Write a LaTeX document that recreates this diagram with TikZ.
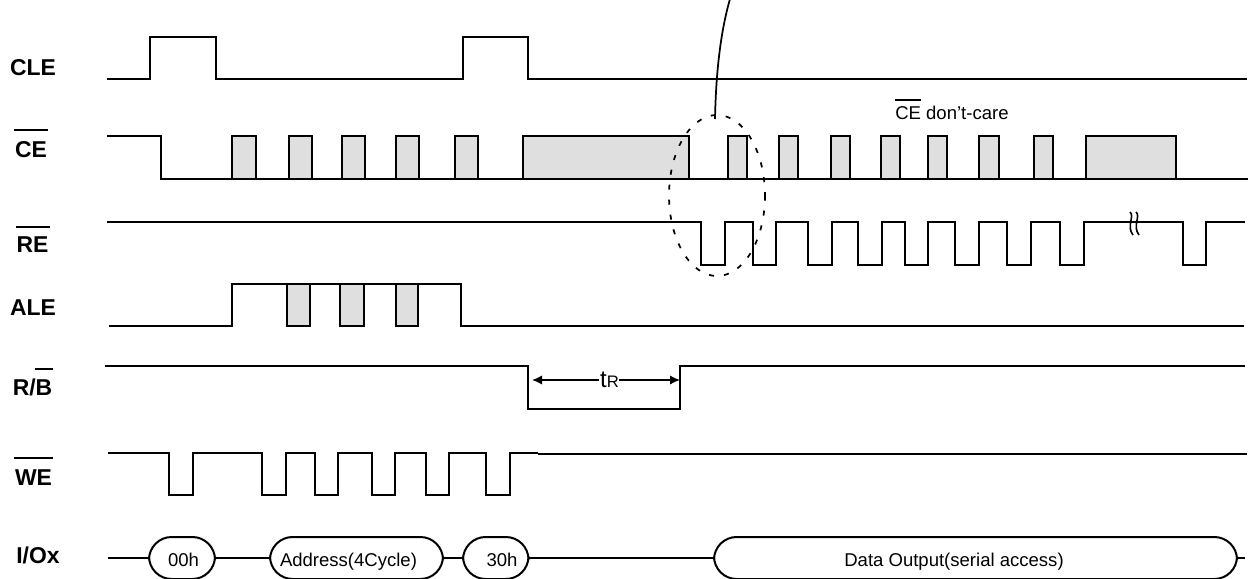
\documentclass[tikz,border=0pt]{standalone}
\usepackage{fontspec}
\usetikzlibrary{arrows.meta}
\setmainfont{Liberation Sans}
\tikzset{
  wave/.style={line width=1.5pt,line join=miter},
  sig/.style={font=\fontsize{17.2}{20}\bfseries\selectfont,inner sep=0pt,anchor=base,text=black},
  txt/.style={font=\fontsize{13.9}{16}\selectfont,inner sep=0pt,anchor=base,text=black},
  pill/.style={wave,rounded corners=17pt,fill=white}
}
\begin{document}
\begin{tikzpicture}[x=0.75pt,y=-0.75pt]
\useasboundingbox (0,0) rectangle (1248,578);
\fill[white] (0,0) rectangle (1248,578);
% gray areas
\foreach \a/\b in {232/256,289/312,342/365,396/419,455/478,523/689,728/747,779/798,831/850,881/900,928/947,979/999,1034/1053,1086/1176}
  \draw[wave,fill=black!12.5] (\a,179) -- (\a,136) -- (\b,136) -- (\b,179);
\foreach \a/\b in {287/310,340/364,396/418}
  \draw[wave,fill=black!12.5] (\a,284) rectangle (\b,326);
% CLE
\draw[wave] (107,79) -| (150,37) -| (216,79) -| (463,37) -| (528,79) -- (1247,79);
% CE
\draw[wave] (107,136) -- (162,136) (161,136) |- (1248,179);
% RE
\draw[wave] (107,222) -| (701,265) -| (725,222) -| (753,265) -| (776,222) -| (808,265) -| (832,222) -| (858,265) -| (882,222) -| (905,265) -| (928,222) -| (955,265) -| (979,222) -| (1007,265) -| (1031,222) -| (1060,265) -| (1084,222) -| (1183,265) -| (1206,222) -- (1245,222);
\draw[line width=1.2pt] (1130,212) .. controls (1135,216) and (1126,226) .. (1133,235);
\draw[line width=1.2pt] (1136,212) .. controls (1141,216) and (1132,226) .. (1139,235);
% ALE
\draw[wave] (109,326) -| (232,284) -| (461,326) -- (1244,326);
% RB
\draw[wave] (105,366) -| (528,409) -| (680,366) -- (1245,366);
\coordinate (tl) at (532,380); \coordinate (tr) at (680,380);
\node[inner sep=0pt,minimum width=15pt,minimum height=14pt] (tr2) at (609,380) {};
\node[inner sep=0pt,anchor=base] (trl) at (609.5,387) {\fontsize{18}{18}\selectfont t\fontsize{12.5}{14}\selectfont R};
\draw[line width=1.2pt,-{Latex[length=7.5pt,width=7pt]}] (tr2) -- (tl);
\draw[line width=1.2pt,-{Latex[length=7.5pt,width=7pt]}] (tr2) -- (tr);
% WE
\draw[wave] (108,453) -| (169,495) -| (193,453) -| (262,495) -| (286,453) -| (315,495) -| (338,453) -| (372,495) -| (395,453) -| (426,495) -| (449,453) -| (486,495) -| (510,453) -- (538,453);
\draw[wave] (538,454) -- (1247,454);
% IO
\draw[wave] (108,558) -- (1245,558);
\draw[pill] (149,537) rectangle (215,579);
\draw[pill] (270,537) rectangle (443,579);
\draw[pill] (463,537) rectangle (528.5,579);
\draw[pill] (714,537) rectangle (1237,579);
\node[txt] (a0) at (183.5,566) {00h};
\node[txt] (a1) at (348.5,566) {Address(4Cycle)};
\node[txt] (a2) at (502,566) {30h};
\node[txt] (a3) at (954,566) {Data Output(serial access)};
% ellipse and curve
\draw[line width=1.3pt,dash pattern=on 3.8pt off 7.5pt] (717,195.5) ellipse [x radius=48,y radius=80.5];
\draw[line width=1.3pt] (715,119) .. controls (716,70) and (721,30) .. (730,-1);
% labels
\node[sig] (cle) at (33,75) {CLE};
\node[sig] (ce) at (31,157) {CE};
\draw[line width=1.7pt] (14,130) -- (48,130);
\node[sig] (re) at (32.5,252) {RE};
\draw[line width=1.7pt] (16,227) -- (50,227);
\node[sig] (ale) at (33,315) {ALE};
\node[sig] (rb) at (32.5,395) {R/B};
\draw[line width=1.7pt] (35,369) -- (53,369);
\node[sig] (we) at (33.5,485) {WE};
\draw[line width=1.7pt] (14,458) -- (53,458);
\node[sig] (io) at (38,563) {I/Ox};
\node[txt,anchor=base west] (dc) at (895,119) {CE don’t-care};
\draw[line width=1.1pt] (895,100) -- (921,100);
\end{tikzpicture}
\end{document}
